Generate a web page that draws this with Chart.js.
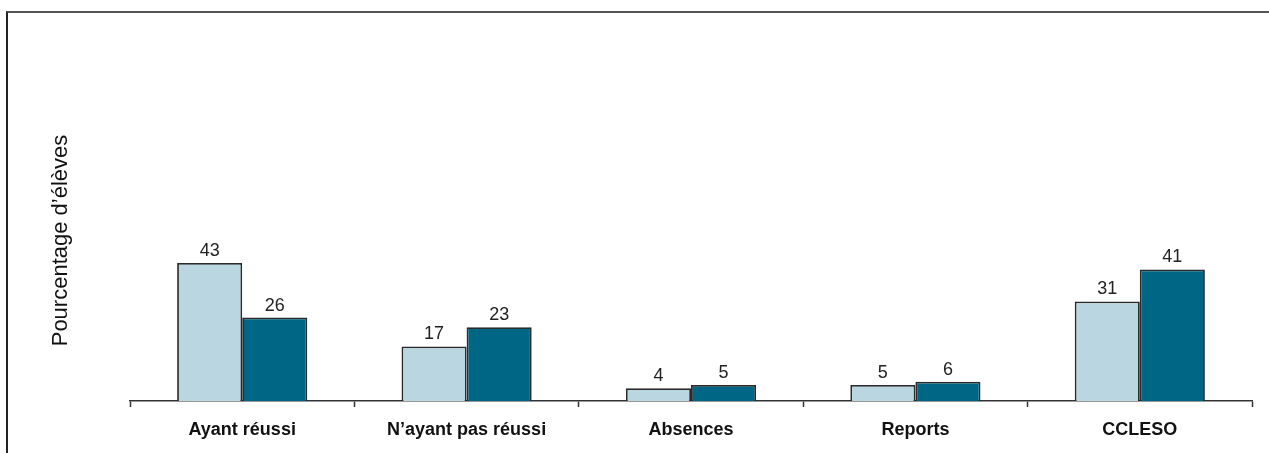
<!DOCTYPE html>
<html>
<head>
<meta charset="utf-8">
<script src="https://cdn.jsdelivr.net/npm/chart.js@4"></script>
<style>
  html, body { margin: 0; padding: 0; background: #fff; }
  #wrap { position: relative; width: 1269px; height: 453px; }
  #frame { position: absolute; left: 6px; top: 11px; right: 0; bottom: 0;
           border-top: 2px solid #555; border-left: 2px solid #222; pointer-events: none; }
  canvas { position: absolute; left: 0; top: 0; }
</style>
</head>
<body>
<div id="wrap">
  <canvas id="c" width="1269" height="453"></canvas>
  <div id="frame"></div>
</div>
<script>
const categories = ["Ayant réussi", "N’ayant pas réussi", "Absences", "Reports", "CCLESO"];
const seriesA = [43, 17, 4, 5, 31];
const seriesB = [26, 23, 5, 6, 41];
const seriesNames = ["Série 1", "Série 2"];
const yTitle = "Pourcentage d’élèves";

const FONT = "Arial, 'Liberation Sans', sans-serif";

const valueLabels = {
  id: 'valueLabels',
  afterDatasetsDraw(chart) {
    const ctx = chart.ctx;
    ctx.save();
    ctx.font = "18px " + FONT;
    ctx.fillStyle = "#222";
    ctx.textAlign = "center";
    ctx.textBaseline = "alphabetic";
    chart.data.datasets.forEach((ds, i) => {
      chart.getDatasetMeta(i).data.forEach((bar, j) => {
        ctx.fillText(String(ds.data[j]), bar.x, bar.y - 7);
      });
    });
    ctx.restore();
  }
};

new Chart(document.getElementById('c'), {
  type: 'bar',
  data: {
    labels: categories,
    datasets: [
      { label: seriesNames[0], data: seriesA, backgroundColor: '#BAD6E1', borderColor: '#2a2a2a', borderWidth: 1.8 },
      { label: seriesNames[1], data: seriesB, backgroundColor: '#006686', borderColor: '#2a2a2a', borderWidth: 1.8 }
    ]
  },
  options: {
    responsive: false,
    animation: false,
    layout: { padding: { top: 80, right: 17, bottom: 0, left: 0 } },
    plugins: { legend: { display: false }, tooltip: { enabled: false } },
    datasets: { bar: { barPercentage: 1, categoryPercentage: 0.58 } },
    scales: {
      x: {
        grid: { drawOnChartArea: false, drawTicks: true, tickLength: 6, tickColor: '#333', tickWidth: 1.5, offset: true },
        border: { display: true, color: '#333', width: 1.5 },
        ticks: { color: '#111', font: { family: FONT, size: 18, weight: 'bold' }, padding: 12, maxRotation: 0, autoSkip: false },
        afterFit(scale) { scale.height = 52; }
      },
      y: {
        min: 0, max: 100,
        grid: { display: false },
        border: { display: false },
        ticks: { display: false },
        title: { display: true, text: yTitle, color: '#111', font: { family: FONT, size: 22 }, padding: { top: 48, bottom: 0 } },
        afterFit(scale) { scale.width = 130; }
      }
    }
  },
  plugins: [valueLabels]
});
</script>
</body>
</html>
